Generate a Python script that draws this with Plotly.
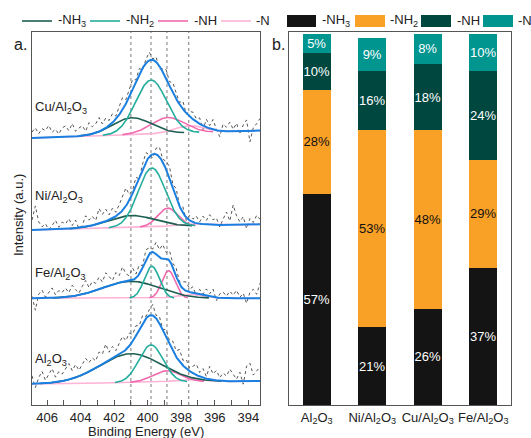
import numpy as np
import plotly.graph_objects as go

# ---------------- panel a: N 1s XPS fits ----------------
sample_labels = ["Cu/Al<sub>2</sub>O<sub>3</sub>", "Ni/Al<sub>2</sub>O<sub>3</sub>",
                 "Fe/Al<sub>2</sub>O<sub>3</sub>", "Al<sub>2</sub>O<sub>3</sub>"]
sample_label_y = [298, 209, 131.5, 46]
peak_positions = [401.0, 399.8, 398.85, 397.55]
component_names = ["-NH<sub>3</sub>", "-NH<sub>2</sub>", "-NH", "-N"]
component_colors = ["#1d5e52", "#22ad9c", "#f06aae", "#ffb3d6"]
envelope_color = "#1a7fe0"

# baseline intensity at left (406.9 eV) and right (393.3 eV) edges
cu_baseline = [267.0, 274.5]
ni_baseline = [175.0, 180.7]
fe_baseline = [106.7, 106.7]
al_baseline = [21.0, 24.0]

# component centres (eV), heights (a.u.), widths (eV): NH3, NH2, NH, N
cu_centers = [400.95, 399.8, 398.8, 397.5]
cu_heights = [17, 54, 16, 7]
cu_widths = [1.15, 0.92, 1.0, 0.9]

ni_centers = [401.0, 399.75, 398.8, 397.5]
ni_heights = [12, 59, 18.5, 2]
ni_widths = [1.4, 0.82, 0.6, 0.9]

fe_centers = [401.0, 399.75, 398.75, 397.5]
fe_heights = [17, 32, 27.6, 4]
fe_widths = [1.7, 0.45, 0.4, 0.8]

al_centers = [401.0, 399.8, 398.85, 397.5]
al_heights = [29, 37.5, 11.5, 2.5]
al_widths = [1.85, 0.72, 0.85, 0.9]

# raw data: deviation of measured points from the fit envelope (a.u.)
cu_resid = [6, 10, 4, 9, 7, 12, 5, 8, 3, 9,
            11, 6, 13, 5, 8, 10, 4, 12, 7, 9,
            14, 6, 10, 5, 9, 3, 8, 12, 4, 7,
            10, 2, 6, -2, 4, 8, 1, 5, -3, 3,
            9, 4, 10, 6, 2, 8, -1, 5, 7, 3,
            6, -4, 8, 3, 10, 1, -6, 7, 4, 9,
            2, 8, -3, 6, 11, -11, 3, 7, 12]
ni_resid = [10, 24, 8, 3, 6, 0, 4, 9, 2, 7,
            5, 10, 3, 8, -1, 2, 11, 6, 9, 4,
            15, 8, 12, 5, 10, 4, 9, 14, 18, 6,
            3, 8, -2, 5, 9, 2, -4, 6, 10, 3,
            8, 12, 4, 9, 1, 6, -3, 5, 3, 7,
            2, 8, 4, 10, 5, 7, -2, 6, 13, 4,
            20, 9, 3, 8, -4, 6, 2, 9, 5]
fe_resid = [2, -12, 4, 8, 1, 6, 10, 3, 7, 5,
            9, 4, 11, 6, 2, 8, 13, 5, 10, 7,
            12, 6, 14, 9, 4, 11, 7, 15, 8, 5,
            12, 4, 9, 2, 10, 6, 3, 12, 8, 14,
            6, 10, 4, 8, 2, 7, 9, 3, 6, -2,
            5, 1, 7, 3, 8, -3, 4, 6, 2, 7,
            3, 8, 1, 5, -5, 6, 9, 4, 15]
al_resid = [8, -4, 6, 12, 3, 9, 14, 5, 10, 7,
            11, 16, 8, 13, 6, 10, 15, 9, 12, 7,
            14, 10, 18, 8, 12, 6, 11, 16, 9, 13,
            7, 10, 4, 8, 2, 6, 11, 3, 7, 1,
            8, 4, 10, 6, 12, 5, 9, 3, 7, 11,
            4, 9, 2, 13, 6, 10, 3, 8, 5, 12,
            7, 2, 9, -3, 15, 18, 6, 10, 14]

be_min, be_max = 393.3, 406.9

# ---------------- panel b: composition ----------------
bar_categories = ["Al<sub>2</sub>O<sub>3</sub>", "Ni/Al<sub>2</sub>O<sub>3</sub>",
                  "Cu/Al<sub>2</sub>O<sub>3</sub>", "Fe/Al<sub>2</sub>O<sub>3</sub>"]
nh3_pct = [57, 21, 26, 37]
nh2_pct = [28, 53, 48, 29]
nh_pct = [10, 16, 18, 24]
n_pct = [5, 9, 8, 10]
bar_colors = ["#141414", "#f9a027", "#00473f", "#00958f"]
bar_text_colors = ["white", "#111111", "white", "white"]

FONT = "Liberation Sans, Arial, sans-serif"

fig = go.Figure()

E = np.linspace(be_max, be_min, 545)
E_raw = np.linspace(be_max, be_min, 69)


def gauss(x, c, h, s):
    return h * np.exp(-0.5 * ((x - c) / s) ** 2)


def baseline(x, b):
    return np.interp(x, [be_min, be_max], [b[1], b[0]])


spectra = [
    (cu_baseline, cu_centers, cu_heights, cu_widths, cu_resid),
    (ni_baseline, ni_centers, ni_heights, ni_widths, ni_resid),
    (fe_baseline, fe_centers, fe_heights, fe_widths, fe_resid),
    (al_baseline, al_centers, al_heights, al_widths, al_resid),
]

for base, cs, hs, ws, resid in spectra:
    b = baseline(E, base)
    comps = [gauss(E, c, h, s) for c, h, s in zip(cs, hs, ws)]
    env = b + sum(comps)
    b_raw = baseline(E_raw, base)
    env_raw = b_raw + sum(gauss(E_raw, c, h, s) for c, h, s in zip(cs, hs, ws))
    fig.add_trace(go.Scatter(x=E_raw, y=env_raw + np.array(resid), mode="lines",
                             line=dict(color="#555555", width=1, dash="dot"),
                             showlegend=False, hoverinfo="skip", xaxis="x", yaxis="y"))
    for k in [3, 2, 0, 1]:
        y = b + comps[k]
        if k != 3:
            y = np.where(comps[k] > 0.4, y, np.nan)
        fig.add_trace(go.Scatter(x=E, y=y, mode="lines",
                                 line=dict(color=component_colors[k], width=1.6),
                                 showlegend=False, hoverinfo="skip", xaxis="x", yaxis="y"))
    fig.add_trace(go.Scatter(x=E, y=env, mode="lines",
                             line=dict(color=envelope_color, width=2),
                             showlegend=False, hoverinfo="skip", xaxis="x", yaxis="y"))

for vals, name, col, tcol in zip([nh3_pct, nh2_pct, nh_pct, n_pct], component_names,
                                 bar_colors, bar_text_colors):
    fig.add_trace(go.Bar(x=bar_categories, y=vals, name=name, marker_color=col,
                         marker_line_width=0,
                         text=[f"{v}%" for v in vals], textposition="inside",
                         insidetextanchor="middle", textangle=0,
                         textfont=dict(color=tcol, size=13, family=FONT),
                         showlegend=False, xaxis="x2", yaxis="y2"))

# ---------- layout helpers (pixel -> paper) ----------
L, R, T, B = 32, 20, 32, 33
W, H = 531, 438
PW, PH = W - L - R, H - T - B


def px(x):
    return (x - L) / PW


def py(y):
    return (H - B - y) / PH


shapes = []
annotations = []

for p in peak_positions:
    shapes.append(dict(type="line", xref="x", yref="y domain", x0=p, x1=p, y0=0, y1=1,
                       line=dict(color="#7a7a7a", width=1, dash="dot"), layer="below"))


def text_ann(x, y, text, size=13, xanchor="center", **kw):
    return dict(xref="paper", yref="paper", x=px(x), y=py(y), text=text, showarrow=False,
                xanchor=xanchor, yanchor="middle",
                font=dict(size=size, color="#222", family=FONT), **kw)


line_legend = [(22, 52, 56), (90, 120, 124), (158, 188, 192), (221, 251, 254)]
for (x0, x1, xt), name, col in zip(line_legend, component_names, component_colors):
    shapes.append(dict(type="line", xref="paper", yref="paper", x0=px(x0), x1=px(x1),
                       y0=py(21), y1=py(21), line=dict(color=col, width=1.6)))
    annotations.append(text_ann(xt, 21, name, xanchor="left"))
bar_legend = [(287, 316, 320), (355, 385, 388), (421, 451, 455), (483, 513, 516)]
for (x0, x1, xt), name, col in zip(bar_legend, component_names, bar_colors):
    shapes.append(dict(type="rect", xref="paper", yref="paper", x0=px(x0), x1=px(x1),
                       y0=py(27), y1=py(15), fillcolor=col, line=dict(width=0)))
    annotations.append(text_ann(xt, 21, name, xanchor="left"))

for lab, yv in zip(sample_labels, sample_label_y):
    annotations.append(dict(xref="x", yref="y", x=406.85, y=yv, text=lab, showarrow=False,
                            xanchor="left", yanchor="middle",
                            font=dict(size=13, color="#222", family=FONT)))

annotations += [
    text_ann(20, 44, "a.", size=16),
    text_ann(278, 44, "b.", size=16),
    text_ann(18, 215, "Intensity (a.u.)", textangle=-90),
    text_ann(146, 431, "Binding Energy (eV)"),
]

axis_line = dict(showline=True, linecolor="#555", linewidth=1.3, mirror=True,
                 showgrid=False, zeroline=False)

fig.update_layout(
    width=W, height=H,
    margin=dict(l=L, r=R, t=T, b=B, autoexpand=False),
    paper_bgcolor="white", plot_bgcolor="white",
    font=dict(family=FONT, size=13, color="#222"),
    barmode="stack", bargap=0.49,
    uniformtext=dict(minsize=13, mode="show"),
    showlegend=False,
    xaxis=dict(domain=[0, 228 / PW], range=[be_max, be_min],
               tickvals=[406, 404, 402, 400, 398, 396, 394], ticks="inside", ticklen=5,
               tickcolor="#555", minor=dict(dtick=1, ticks="inside", ticklen=5, tickcolor="#555"),
               tickfont=dict(size=13, color="#222"), anchor="y", **axis_line),
    yaxis=dict(domain=[0, 1], range=[0, PH], showticklabels=False, ticks="",
               anchor="x", **axis_line),
    xaxis2=dict(domain=[257 / PW, 1], ticks="", tickfont=dict(size=13, color="#222"),
                anchor="y2", **axis_line),
    yaxis2=dict(domain=[0, 1], range=[0, 100.54], showticklabels=False, ticks="",
                anchor="x2", **axis_line),
    shapes=shapes,
    annotations=annotations,
)

fig.write_html("out.html", config={"displayModeBar": False},
               post_script="document.body.style.margin='0';document.body.style.overflow='hidden';")
